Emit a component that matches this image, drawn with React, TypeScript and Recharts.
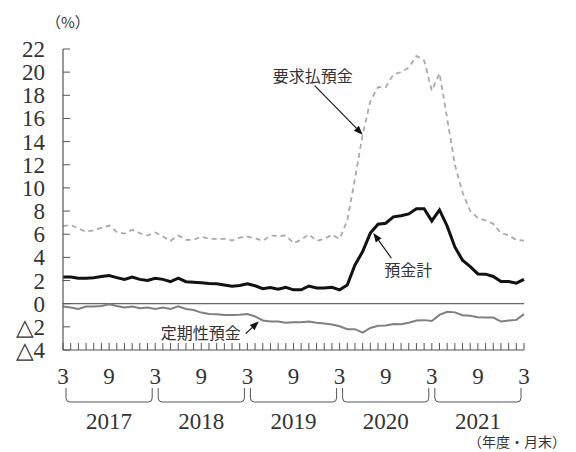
import React from 'react';
import { LineChart, Line, XAxis, YAxis, ReferenceLine, ReferenceArea, ReferenceDot } from 'recharts';

const fiscalYears = ['2017', '2018', '2019', '2020', '2021'];
const fiscalMonths = ['3', '4', '5', '6', '7', '8', '9', '10', '11', '12', '1', '2'];
const yTicks = [-4, -2, 0, 2, 4, 6, 8, 10, 12, 14, 16, 18, 20, 22];

// 預金計 (前年比, %)
const total = [
  2.3, 2.3, 2.2, 2.2, 2.25, 2.35, 2.43, 2.25, 2.1, 2.3, 2.1, 2.0,
  2.2, 2.1, 1.9, 2.2, 1.9, 1.85, 1.8, 1.75, 1.72, 1.62, 1.5, 1.58,
  1.72, 1.55, 1.3, 1.4, 1.25, 1.42, 1.2, 1.2, 1.53, 1.36, 1.36, 1.42,
  1.2, 1.62, 3.35, 4.5, 6.1, 6.87, 6.95, 7.5, 7.6, 7.75, 8.2, 8.2,
  7.15, 8.1, 6.7, 4.9, 3.75, 3.2, 2.57, 2.55, 2.35, 1.91, 1.91, 1.77,
  2.1,
];
// 要求払預金
const demand = [
  6.7, 6.8, 6.5, 6.2, 6.35, 6.55, 6.75, 6.2, 6.05, 6.38, 6.1, 5.9,
  6.15, 5.8, 5.43, 5.9, 5.52, 5.52, 5.8, 5.6, 5.6, 5.6, 5.46, 5.7,
  5.8, 5.65, 5.43, 5.89, 5.85, 5.89, 5.23, 5.52, 6.0, 5.43, 5.6, 5.95,
  5.6, 7.2, 10.8, 14.6, 17.5, 18.7, 18.7, 19.8, 20.0, 20.4, 21.4, 21.0,
  18.4, 19.9, 16.0, 12.0, 9.6, 8.0, 7.4, 7.2, 6.9, 6.1, 5.9, 5.5,
  5.45,
];
// 定期性預金
const term = [
  -0.25, -0.33, -0.45, -0.25, -0.25, -0.2, -0.05, -0.2, -0.33, -0.25, -0.4, -0.33,
  -0.45, -0.33, -0.45, -0.22, -0.45, -0.55, -0.77, -0.88, -0.92, -0.97, -0.97, -0.95,
  -0.9, -1.1, -1.45, -1.54, -1.54, -1.65, -1.6, -1.6, -1.54, -1.65, -1.72, -1.8,
  -1.95, -2.2, -2.2, -2.5, -2.1, -1.9, -1.88, -1.75, -1.78, -1.65, -1.45, -1.42,
  -1.5, -0.97, -0.7, -0.75, -1.0, -1.05, -1.17, -1.2, -1.2, -1.54, -1.46, -1.4,
  -0.9,
];

const monthOf = (i: number) => fiscalMonths[i % 12];
const data = total.map((v, i) => ({ i, month: monthOf(i), total: v, demand: demand[i], term: term[i] }));

const SERIF = "'Liberation Serif', 'Times New Roman', serif";
const JP = "'Noto Sans CJK JP', sans-serif";
const AXIS = '#555';
const INK = '#333';
const serifStyle = { fontFamily: SERIF, fontSize: 23 };
const jpStyle = { fontFamily: JP, fontSize: 16 };

const XTick = (props: any) => {
  const { x, y, payload } = props;
  const m = monthOf(payload.value);
  return (
    <g>
      <line x1={x} x2={x} y1={y} y2={y - 7} stroke={AXIS} strokeWidth={1} />
      {(m === '3' || m === '9') && (
        <text x={x} y={y + 34} textAnchor="middle" style={serifStyle} fill={INK}>{m}</text>
      )}
    </g>
  );
};

const YTick = (props: any) => {
  const { x, y, payload } = props;
  const v = payload.value as number;
  const lbl = v < 0 ? `△${-v}` : `${v}`;
  return (
    <g>
      <line x1={x} x2={x + 7} y1={y} y2={y} stroke={AXIS} strokeWidth={1} />
      <text x={x - 18} y={y + 8} textAnchor="end" style={serifStyle} fill={INK}>{lbl}</text>
    </g>
  );
};

const Arrow = ({ x1, y1, x2, y2 }: { x1: number; y1: number; x2: number; y2: number }) => {
  const a = Math.atan2(y2 - y1, x2 - x1);
  const len = 9;
  const w = 3.5;
  const bx = x2 - len * Math.cos(a);
  const by = y2 - len * Math.sin(a);
  const px = -Math.sin(a) * w;
  const py = Math.cos(a) * w;
  return (
    <g>
      <line x1={x1} y1={y1} x2={bx} y2={by} stroke="#111" strokeWidth={1.1} />
      <polygon points={`${x2},${y2} ${bx + px},${by + py} ${bx - px},${by - py}`} fill="#111" />
    </g>
  );
};

const Bracket = (props: any) => {
  const { x, y, width, height, label } = props;
  const b = y + height;
  const l = x + 3;
  const r = x + width - 3;
  const top = b + 38;
  const bot = b + 52;
  const rad = 4;
  return (
    <g>
      <path
        d={`M${l},${top} L${l},${bot - rad} Q${l},${bot} ${l + rad},${bot} L${r - rad},${bot} Q${r},${bot} ${r},${bot - rad} L${r},${top}`}
        fill="none"
        stroke={AXIS}
        strokeWidth={1}
      />
      <text x={(l + r) / 2} y={b + 79} textAnchor="middle" style={serifStyle} fill={INK}>{label}</text>
    </g>
  );
};

export default function App() {
  return (
    <div style={{ position: 'absolute', left: 0, top: 0, width: 576, height: 452, background: '#fff' }}>
      <LineChart width={576} height={452} data={data} margin={{ top: 49, right: 52, bottom: 0, left: 0 }}>
        <XAxis
          dataKey="i"
          type="number"
          domain={[0, 60]}
          ticks={data.map((d) => d.i)}
          interval={0}
          height={102}
          tickSize={0}
          tickMargin={0}
          tick={<XTick />}
          axisLine={{ stroke: AXIS, strokeWidth: 1.2 }}
          tickLine={false}
        />
        <YAxis
          type="number"
          domain={[-4, 22]}
          ticks={yTicks}
          interval={0}
          width={63}
          tickSize={0}
          tickMargin={0}
          tick={<YTick />}
          axisLine={{ stroke: AXIS, strokeWidth: 1.2 }}
          tickLine={false}
        />
        <ReferenceLine y={0} stroke="#666" strokeWidth={1.2} />
        {fiscalYears.map((fy, k) => (
          <ReferenceArea
            key={fy}
            x1={k * 12}
            x2={k * 12 + 12}
            y1={-4}
            y2={22}
            ifOverflow="visible"
            shape={(p: any) => <Bracket {...p} label={fy} />}
          />
        ))}
        <Line type="linear" dataKey="demand" stroke="#aaa" strokeWidth={1.8} strokeDasharray="5 4" dot={false} isAnimationActive={false} />
        <Line type="linear" dataKey="term" stroke="#808080" strokeWidth={2} dot={false} isAnimationActive={false} />
        <Line type="linear" dataKey="total" stroke="#111" strokeWidth={3} dot={false} isAnimationActive={false} />
        <ReferenceDot
          x={39}
          y={demand[39]}
          ifOverflow="visible"
          shape={(p: any) => (
            <g>
              <Arrow x1={p.cx - 48} y1={p.cy - 49} x2={p.cx} y2={p.cy} />
              <text x={p.cx - 90} y={p.cy - 53} style={jpStyle} fill={INK}>要求払預金</text>
            </g>
          )}
        />
        <ReferenceDot
          x={40}
          y={total[40]}
          ifOverflow="visible"
          shape={(p: any) => (
            <g>
              <Arrow x1={p.cx + 21} y1={p.cy + 25} x2={p.cx + 3} y2={p.cy} />
              <text x={p.cx + 38} y={p.cy + 43} textAnchor="middle" style={jpStyle} fill={INK}>預金計</text>
            </g>
          )}
        />
        <ReferenceDot
          x={26}
          y={term[26]}
          ifOverflow="visible"
          shape={(p: any) => (
            <g>
              <Arrow x1={p.cx - 17} y1={p.cy + 13} x2={p.cx - 4} y2={p.cy + 1} />
              <text x={p.cx - 22} y={p.cy + 19} textAnchor="end" style={jpStyle} fill={INK}>定期性預金</text>
            </g>
          )}
        />
      </LineChart>
      <div style={{ position: 'absolute', left: 46, top: 11, fontFamily: JP, fontSize: 15, lineHeight: '22px', color: INK, whiteSpace: 'nowrap' }}>（%）</div>
      <div style={{ position: 'absolute', left: 468, top: 433, fontFamily: JP, fontSize: 14, lineHeight: '16px', color: INK, whiteSpace: 'nowrap' }}>（年度・月末）</div>
    </div>
  );
}
